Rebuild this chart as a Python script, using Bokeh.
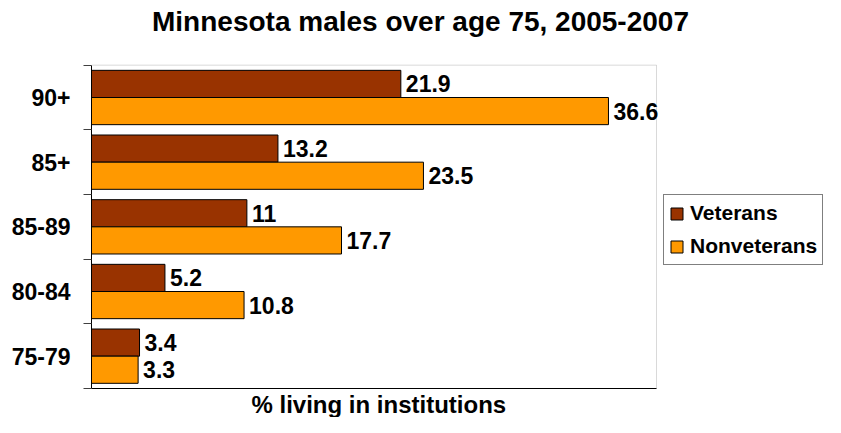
import numpy as np
from bokeh.plotting import figure
from bokeh.models import (Range1d, FixedTicker, Legend, LegendItem,
                          ColumnDataSource, Title, BoxAnnotation, Label)
from bokeh.core.properties import value
from bokeh.embed import file_html
from bokeh.resources import INLINE

# ---- data ----
categories = ["75-79", "80-84", "85-89", "85+", "90+"]
veterans = [3.4, 5.2, 11, 13.2, 21.9]
nonveterans = [3.3, 10.8, 17.7, 23.5, 36.6]
series_names = ["Veterans", "Nonveterans"]
title_text = "Minnesota males over age 75, 2005-2007"
x_label = "% living in institutions"
x_max = 40

FONT = "Liberation Sans"
VET_COLOR = "#993300"
NON_COLOR = "#FF9900"

W, H = 825, 417
ML = 91
PLOT_W = 565                      # pixel width of the plotting area (0..x_max)
FRAME_W = W - ML                  # frame extends under the legend
x_end = x_max * FRAME_W / PLOT_W

pos = np.arange(len(categories), dtype=float)
off = 0.21
bh = 0.42
y0, y1 = -0.5, len(categories) - 0.5
y_top = y1 + 1.0                  # head room for the title inside the frame

vet_src = ColumnDataSource(dict(y=pos + off, v=veterans,
                                lab=[f"{v:g}" for v in veterans]))
non_src = ColumnDataSource(dict(y=pos - off, v=nonveterans,
                                lab=[f"{v:g}" for v in nonveterans]))

p = figure(width=W, height=H, output_backend="svg", toolbar_location=None,
           x_range=Range1d(0, x_end), y_range=Range1d(y0, y_top),
           min_border_left=ML, min_border_right=0, min_border_top=0,
           min_border_bottom=0, title=None)
p.background_fill_color = "white"
p.border_fill_color = "white"
p.outline_line_color = None
p.xgrid.visible = False
p.ygrid.visible = False

# plot-area border (gray top/right)
p.add_layout(BoxAnnotation(left=0, right=x_max, bottom=y0, top=y1,
                           fill_alpha=0, line_color="#808080", line_width=1,
                           level="underlay"))

r_vet = p.hbar(y="y", left=0, right="v", height=bh, source=vet_src,
               fill_color=VET_COLOR, line_color="black", line_width=1)
r_non = p.hbar(y="y", left=0, right="v", height=bh, source=non_src,
               fill_color=NON_COLOR, line_color="black", line_width=1)

for src in (vet_src, non_src):
    p.text(x="v", y="y", text="lab", source=src, x_offset=5,
           text_baseline="middle", text_align="left",
           text_font=value(FONT), text_font_style="bold",
           text_font_size="23px", text_color="black")

# y axis: labels at centers, tick marks at group boundaries
yax = p.yaxis[0]
yax.ticker = FixedTicker(ticks=list(pos),
                         minor_ticks=list(np.arange(y0, y1 + 0.5, 1.0)))
yax.bounds = (y0, y1)
yax.major_label_overrides = {int(i): c for i, c in enumerate(categories)}
yax.major_tick_line_color = None
yax.major_tick_out = 0
yax.major_tick_in = 0
yax.minor_tick_out = 8
yax.minor_tick_in = 0
yax.minor_tick_line_color = "#404040"
yax.axis_line_color = "black"
yax.major_label_standoff = 13
yax.major_label_text_font = FONT
yax.major_label_text_font_style = "bold"
yax.major_label_text_font_size = "23px"
yax.major_label_text_color = "black"

# x axis: only the line (limited to the plot area)
xax = p.xaxis[0]
xax.ticker = FixedTicker(ticks=[])
xax.bounds = (0, x_max)
xax.major_tick_line_color = None
xax.minor_tick_line_color = None
xax.major_tick_out = 0
xax.major_label_standoff = 0
xax.axis_line_color = "black"

xlab = Title(text=x_label, align="left", offset=160, standoff=0,
             text_font=FONT, text_font_style="bold", text_font_size="24px",
             text_color="black")
p.add_layout(xlab, "below")

# chart title, drawn in the head room at the top of the frame
p.add_layout(Label(x=329, y=367, x_units="screen", y_units="screen",
                   text=title_text, text_align="center", text_baseline="middle",
                   text_font=FONT, text_font_style="bold",
                   text_font_size="28px", text_color="black"))

legend = Legend(items=[LegendItem(label=series_names[0], renderers=[r_vet]),
                       LegendItem(label=series_names[1], renderers=[r_non])],
                location=(572, 123), orientation="vertical",
                label_text_font=FONT, label_text_font_style="bold",
                label_text_font_size="21px", label_text_color="black",
                glyph_width=15, glyph_height=15, label_height=26,
                label_standoff=6, spacing=7, padding=5, margin=0,
                border_line_color="black", border_line_width=1,
                background_fill_color="white", background_fill_alpha=1)
p.add_layout(legend)

open("out.html", "w").write(file_html(p, INLINE))
